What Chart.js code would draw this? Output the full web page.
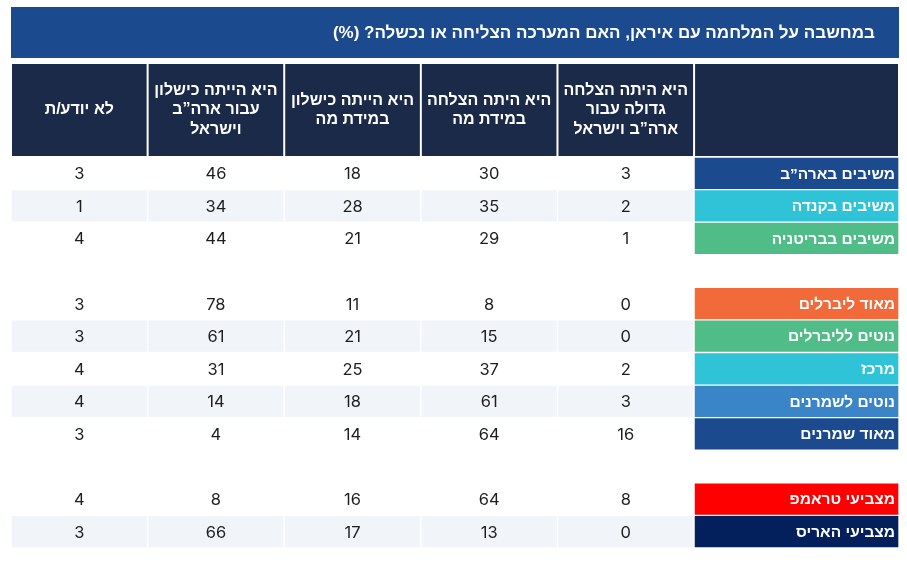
<!DOCTYPE html>
<html dir="rtl" lang="he">
<head>
<meta charset="utf-8">
<script src="https://cdn.jsdelivr.net/npm/chart.js"></script>
<style>
  html, body { margin: 0; padding: 0; background: #fff; }
  #wrap { width: 907px; height: 565px; position: relative; }
</style>
</head>
<body>
<div id="wrap"><canvas id="tabla" dir="rtl"></canvas></div>
<script>
// datos de la tabla (null = fila vacia entre grupos)
const titulo = 'במחשבה על המלחמה עם איראן, האם המערכה הצליחה או נכשלה? (%)';
const encabezados = [
  ['היא היתה הצלחה', 'גדולה עבור', 'ארה”ב וישראל'],
  ['היא היתה הצלחה', 'במידת מה'],
  ['היא הייתה כישלון', 'במידת מה'],
  ['היא הייתה כישלון', 'עבור ארה”ב', 'וישראל'],
  ['לא יודע/ת']
];
const filas = ['משיבים בארה”ב', 'משיבים בקנדה', 'משיבים בבריטניה', null,
  'מאוד ליברלים', 'נוטים לליברלים', 'מרכז', 'נוטים לשמרנים', 'מאוד שמרנים', null,
  'מצביעי טראמפ', 'מצביעי האריס'];
const exitoGrande  = [3, 2, 1, null, 0, 0, 2, 3, 16, null, 8, 0];
const exitoAlgo    = [30, 35, 29, null, 8, 15, 37, 61, 64, null, 64, 13];
const fracasoAlgo  = [18, 28, 21, null, 11, 21, 25, 18, 14, null, 16, 17];
const fracasoTotal = [46, 34, 44, null, 78, 61, 31, 14, 4, null, 8, 66];
const noSabe       = [3, 1, 4, null, 3, 3, 4, 4, 3, null, 4, 3];

// estilos
const coloresFila = ['#1c4a8e', '#2fc3d8', '#50bc87', null,
  '#f26a3a', '#50bc87', '#2fc3d8', '#3a85c8', '#1c4a8e', null,
  '#ff0000', '#04205c'];
const fuente = "'Liberation Sans', 'DejaVu Sans', sans-serif";
const fuenteNum = "Inter, 'Liberation Sans', sans-serif";
const anchoEtiqueta = 1.5; // columna de etiquetas = 1.5 columnas de datos

const columnas = [exitoGrande, exitoAlgo, fracasoAlgo, fracasoTotal, noSabe];

// franja gris en filas alternas de cada grupo
let k = 0;
const fondoFila = filas.map(f => {
  if (f === null) { k = 0; return null; }
  return (k++ % 2 === 1) ? '#f1f4f9' : 'rgba(255,255,255,0)';
});

const tramos = [[0, anchoEtiqueta]].concat(columnas.map((c, j) => [anchoEtiqueta + j, anchoEtiqueta + j + 1]));

const datasets = [{
  data: filas.map(f => f === null ? null : tramos[0]),
  backgroundColor: coloresFila,
  textos: filas,
  etiqueta: true
}].concat(columnas.map((col, j) => ({
  data: col.map(v => v === null ? null : tramos[j + 1]),
  backgroundColor: fondoFila,
  textos: col
})));

const pluginTabla = {
  id: 'tabla',
  afterLayout(chart) {
    chart.titleBlock.right -= 24;
  },
  beforeDraw(chart) {
    const {ctx, titleBlock: t, scales: {x}} = chart;
    ctx.save();
    ctx.fillStyle = '#1c4a8e';
    ctx.fillRect(t.left, t.top, t.right + 24 - t.left, t.height);
    ctx.fillStyle = '#1c2a4a';
    tramos.forEach(([a, b]) => {
      const l = x.getPixelForValue(b), r = x.getPixelForValue(a);
      ctx.fillRect(l + 1, x.top + 6, r - l - 2, x.bottom - x.top - 7);
    });
    ctx.restore();
  },
  afterDatasetsDraw(chart) {
    const ctx = chart.ctx;
    ctx.save();
    ctx.textBaseline = 'middle';
    chart.data.datasets.forEach((ds, d) => {
      chart.getDatasetMeta(d).data.forEach((el, i) => {
        const txt = ds.textos[i];
        if (txt === null || txt === undefined) return;
        const {x, base, y} = el.getProps(['x', 'base', 'y'], true);
        if (ds.etiqueta) {
          ctx.font = 'bold 15.5px ' + fuente;
          ctx.fillStyle = '#fff';
          ctx.textAlign = 'right';
          ctx.fillText(txt, Math.max(x, base) - 4, y + 1);
        } else {
          ctx.font = '16.5px ' + fuenteNum;
          ctx.fillStyle = '#1e1e1e';
          ctx.textAlign = 'center';
          ctx.fillText(String(txt), (x + base) / 2, y + 1);
        }
      });
    });
    ctx.restore();
  }
};

const ctx = document.getElementById('tabla').getContext('2d');
const tabla = new Chart(ctx, {
  type: 'bar',
  data: {
    labels: filas.map(f => f || ''),
    datasets: datasets
  },
  options: {
    indexAxis: 'y',
    responsive: true,
    maintainAspectRatio: false,
    animation: false,
    grouped: false,
    categoryPercentage: 1,
    barPercentage: 1,
    borderWidth: 1,
    borderColor: '#fff',
    borderSkipped: false,
    layout: { padding: { top: 7, left: 11, right: 8, bottom: 17 } },
    plugins: {
      legend: { display: false },
      tooltip: { enabled: false },
      title: {
        display: true,
        text: titulo,
        align: 'end',
        color: '#fff',
        font: { family: fuente, size: 17, weight: 'bold', lineHeight: 1.2 },
        padding: { top: 16, bottom: 14.6 }
      }
    },
    scales: {
      x: {
        type: 'linear',
        position: 'top',
        reverse: true,
        min: 0,
        max: anchoEtiqueta + columnas.length,
        bounds: 'data',
        grid: { display: false, drawTicks: false },
        border: { display: false },
        afterBuildTicks(scale) {
          scale.ticks = tramos.map(([a, b]) => ({ value: (a + b) / 2 }));
        },
        afterFit(scale) { scale.height = 99; },
        ticks: {
          autoSkip: false,
          maxRotation: 0,
          minRotation: 0,
          crossAlign: 'center',
          padding: 27.5,
          color: '#fff',
          font: { family: fuente, size: 16, weight: 'bold', lineHeight: 1.22 },
          callback: (v, i) => i === 0 ? '' : encabezados[i - 1]
        }
      },
      y: {
        type: 'category',
        display: false
      }
    }
  },
  plugins: [pluginTabla]
});
</script>
</body>
</html>
